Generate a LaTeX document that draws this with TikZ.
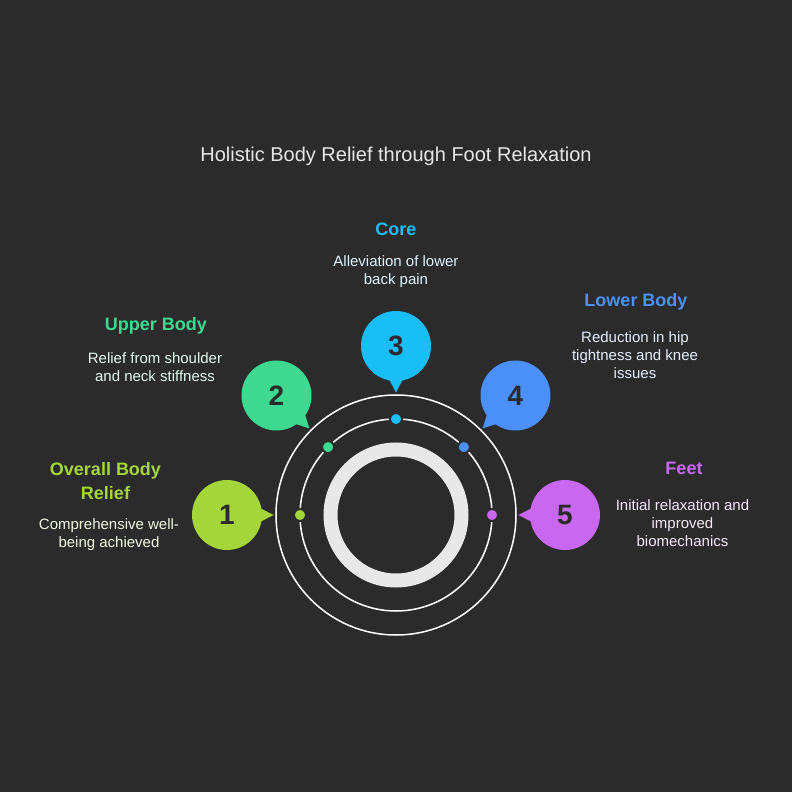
\documentclass[tikz,border=0pt]{standalone}
\usepackage{fontspec}
\setmainfont{Liberation Sans}
\usetikzlibrary{calc}
\definecolor{bg}{HTML}{2B2B2B}
\definecolor{cone}{HTML}{A4D63A}
\definecolor{ctwo}{HTML}{3ED991}
\definecolor{cthree}{HTML}{1ABEF7}
\definecolor{cfour}{HTML}{4A90F7}
\definecolor{cfive}{HTML}{C868F0}
\definecolor{ringgray}{HTML}{E8E8E8}
\definecolor{titlegray}{HTML}{E6E6E6}
\begin{document}
\begin{tikzpicture}[x=1pt,y=1pt,
  orbit/.style={draw=white,line width=1.5pt},
  bubble/.style={circle,fill=#1,minimum size=70pt,inner sep=0pt,font=\fontsize{28}{30}\selectfont\bfseries,text=bg},
  dotnode/.style={circle,fill=#1,draw=bg,line width=2pt,minimum size=12pt,inner sep=0pt},
  headtext/.style={font=\fontsize{18}{24}\selectfont\bfseries,text=#1,align=center},
  desctext/.style={font=\fontsize{15}{18}\selectfont,text=#1!15!white,align=center},
]
\fill[bg] (-396,-277) rectangle (396,515);
\useasboundingbox (-396,-277) rectangle (396,515);

\node[font=\fontsize{20}{24}\selectfont,text=titlegray] (title) at (0,359) {Holistic Body Relief through Foot Relaxation};

% rings
\node[circle,draw=ringgray,line width=14pt,minimum size=131pt,inner sep=0pt] (ring) at (0,0) {};
\node[circle,orbit,minimum size=192pt,inner sep=0pt] (mid) at (0,0) {};
\node[circle,orbit,minimum size=240pt,inner sep=0pt] (outer) at (0,0) {};

% bubbles with tails
\foreach \n/\a/\c in {1/180/cone,2/135/ctwo,3/90/cthree,4/45/cfour,5/0/cfive}{
  \coordinate (tip\n) at (\a:122.5);
  \coordinate (bc\n) at (\a:169);
  \fill[\c] ($(bc\n)+(\a+180-13:33)$) -- (tip\n) -- ($(bc\n)+(\a+180+13:33)$) -- cycle;
  \node[bubble=\c] (b\n) at (bc\n) {\n};
  \node[dotnode=\c] (d\n) at (\a:96) {};
}

% labels
\node[headtext=cthree] (h3) at (0,286) {Core};
\node[desctext=cthree] (t3) at (0,243.5) {Alleviation of lower\\back pain};

\node[headtext=ctwo] (h2) at (-240,189.5) {Upper Body};
\node[desctext=ctwo] (t2) at (-241,148) {Relief from shoulder\\and neck stiffness};

\node[headtext=cfour] (h4) at (240,213.5) {Lower Body};
\node[desctext=cfour] (t4) at (239,159.5) {Reduction in hip\\tightness and knee\\issues};

\node[headtext=cone] (h1) at (-290.5,34) {Overall Body\\Relief};
\node[desctext=cone] (t1) at (-287,-20) {Comprehensive well-\\being achieved};

\node[headtext=cfive] (h5) at (288,46.5) {Feet};
\node[desctext=cfive] (t5) at (286.5,-8) {Initial relaxation and\\improved\\biomechanics};
\end{tikzpicture}
\end{document}
